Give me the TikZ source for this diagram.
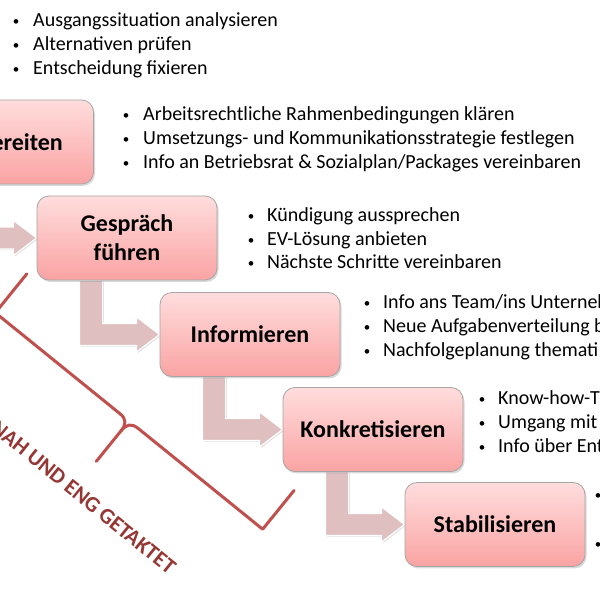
\documentclass[tikz,border=0pt]{standalone}
\usepackage{fontspec}
\setmainfont{Carlito}
\usetikzlibrary{calc,shadows,backgrounds}
\definecolor{boxtop}{RGB}{255,221,221}
\definecolor{boxbot}{RGB}{250,163,163}
\definecolor{boxline}{RGB}{165,165,165}
\definecolor{arrowfill}{RGB}{223,191,192}
\definecolor{bracecol}{RGB}{192,80,77}
\definecolor{txtred}{RGB}{149,55,53}
\tikzset{
  stepbox/.style={rounded corners=12pt, minimum width=180pt, minimum height=84pt,
    top color=boxtop, bottom color=boxbot, draw=boxline, line width=0.8pt,
    font=\fontsize{24}{28.8}\selectfont\bfseries, align=center, inner sep=0pt,
    drop shadow={shadow xshift=1.5pt, shadow yshift=-2pt, opacity=0.3}},
  bendarrow/.style={fill=arrowfill, draw=white, line width=1.2pt, line join=miter,
    drop shadow={shadow xshift=1.2pt, shadow yshift=-1.2pt, opacity=0.25}},
  bltext/.style={anchor=base west, inner sep=0pt, font=\fontsize{20}{24}\selectfont},
  bldot/.style={anchor=base, inner sep=0pt, font=\fontsize{13}{24}\selectfont},
  bracestyle/.style={draw=bracecol, line width=3pt, line cap=round, line join=round},
}
\newcommand\bul{\raisebox{1.4pt}{•}}
\newcommand\lconn[3]{%
  \coordinate (#3p1) at ($(#1.south west)+(43,0)$);
  \coordinate (#3p2) at ($(#1.south west)+(66,0)$);
  \coordinate (#3q1) at ($(#2.west)+(-23,-11)$);
  \coordinate (#3q2) at ($(#2.west)+(-23,-17.5)$);
  \coordinate (#3q3) at ($(#2.west)+(-23,17.5)$);
  \coordinate (#3q4) at ($(#2.west)+(-23,11)$);
  \path[bendarrow] (#3p1) -- (#3p1 |- #3q1) -- (#3q1) -- (#3q2) -- (#2.west)
    -- (#3q3) -- (#3q4) -- (#3p2 |- #3q4) -- (#3p2) -- cycle;
}
\begin{document}
\begin{tikzpicture}[x=1pt,y=1pt]
\useasboundingbox (0,0) rectangle (600,600);
\clip (0,0) rectangle (600,600);

% boxes
\node[stepbox] (b1) at (3.5,458) {Vorbereiten};
\node[stepbox] (b2) at (127,362) {Gespräch\\führen};
\node[stepbox] (b3) at (250,265.5) {Informieren};
\node[stepbox] (b4) at (373,170.5) {Konkretisieren};
\node[stepbox] (b5) at (495,75.5) {Stabilisieren};

% bent arrows
\begin{pgfonlayer}{background}
\lconn{b1}{b2}{a}
\lconn{b2}{b3}{b}
\lconn{b3}{b4}{c}
\lconn{b4}{b5}{d}
\end{pgfonlayer}

% top bullets
\node[bldot] (d01) at (16,573) {\bul};
\node[bltext] (t01) at (33,573) {Ausgangssituation analysieren};
\node[bldot] (d02) at (16,549) {\bul};
\node[bltext] (t02) at (33,549) {Alternativen prüfen};
\node[bldot] (d03) at (16,525) {\bul};
\node[bltext] (t03) at (33,525) {Entscheidung fixieren};

% block 1
\node[bldot] (d11) at (126,479) {\bul};
\node[bltext] (t11) at (143,479) {Arbeitsrechtliche Rahmenbedingungen klären};
\node[bldot] (d12) at (126,455) {\bul};
\node[bltext] (t12) at (143,455) {Umsetzungs- und Kommunikationsstrategie festlegen};
\node[bldot] (d13) at (126,431) {\bul};
\node[bltext] (t13) at (143,431) {Info an Betriebsrat \& Sozialplan/Packages vereinbaren};

% block 2
\node[bldot] (d21) at (251,378) {\bul};
\node[bltext] (t21) at (267,378) {Kündigung aussprechen};
\node[bldot] (d22) at (251,354.5) {\bul};
\node[bltext] (t22) at (267,354.5) {EV-Lösung anbieten};
\node[bldot] (d23) at (251,331) {\bul};
\node[bltext] (t23) at (267,331) {Nächste Schritte vereinbaren};

% block 3
\node[bldot] (d31) at (367,291) {\bul};
\node[bltext] (t31) at (383,291) {Info ans Team/ins Unterneh};
\node[bldot] (d32) at (367,267) {\bul};
\node[bltext] (t32) at (383,267) {Neue Aufgabenverteilung b};
\node[bldot] (d33) at (367,243.5) {\bul};
\node[bltext] (t33) at (383,243.5) {Nachfolgeplanung themati};

% block 4
\node[bldot] (d41) at (482,195) {\bul};
\node[bltext] (t41) at (498,195) {Know-how-T};
\node[bldot] (d42) at (482,171.5) {\bul};
\node[bltext] (t42) at (498,171.5) {Umgang mit};
\node[bldot] (d43) at (482,147.5) {\bul};
\node[bltext] (t43) at (498,147.5) {Info über Ent};

% block 5
\node[bldot] (d51) at (598,99) {\bul};
\node[bldot] (d52) at (598,50) {\bul};

% brace and label
\begin{scope}[shift={(129,179)}, rotate=-39]
  \draw[bracestyle] (-172,50) -- (-172,0) -- (-12,0) .. controls (-3,0) and (0,-4) .. (0,-13) -- (0,-52);
  \draw[bracestyle] (0,-13) .. controls (0,-4) and (3,0) .. (12,0) -- (172,0) -- (172,50);
  \node[font=\fontsize{22}{26}\selectfont\bfseries, text=txtred, anchor=east,
        inner sep=0pt, transform shape] (tag) at (128,-88) {NAH UND ENG GETAKTET};
\end{scope}
\end{tikzpicture}
\end{document}
